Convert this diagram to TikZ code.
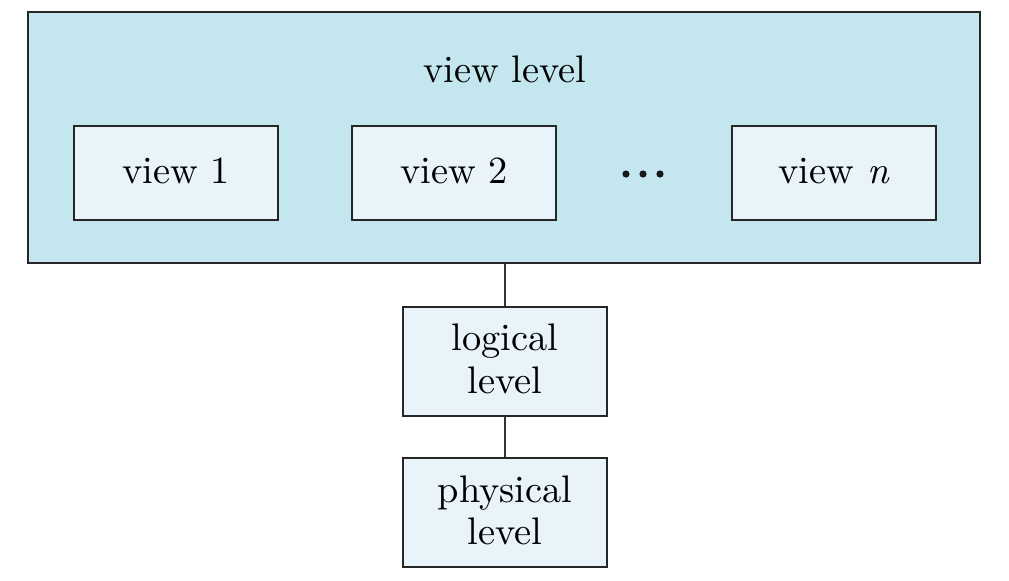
\documentclass[tikz,border=0pt]{standalone}
\begin{document}
\begin{tikzpicture}[x=0.25pt,y=-0.25pt,
  outerfill/.style={draw=black!85,line width=0.5pt,fill={rgb,255:red,196;green,230;blue,239}},
  boxa/.style={draw=black!85,line width=0.5pt,fill={rgb,255:red,232;green,244;blue,249},inner sep=0pt},
  lbl/.style={font=\fontsize{9.6}{10.6}\selectfont,align=center,inner sep=0pt},
  dotc/.style={fill=black!90,draw=none},
  conn/.style={draw=black!80,line width=0.5pt}]
\useasboundingbox (0,0) rectangle (1009,580);
\path[outerfill] (28,12) rectangle (980,263);
\coordinate (outerb) at (505,263);
\node[lbl] (vl) at (505,69) {view level};
\node[boxa,minimum width=51pt,minimum height=23.5pt] (v1) at (176,173) {};
\node[lbl] at (176,171) {view 1};
\node[boxa,minimum width=51pt,minimum height=23.5pt] (v2) at (454,173) {};
\node[lbl] at (454,171) {view 2};
\fill[dotc] (626,174) circle (0.9pt) (643,174) circle (0.9pt) (660,174) circle (0.9pt);
\node[boxa,minimum width=51pt,minimum height=23.5pt] (vn) at (834,173) {};
\node[lbl] at (834,171) {view \textit{n}};
\node[boxa,minimum width=51pt,minimum height=27.25pt] (log) at (505,361) {};
\node[lbl] at (505,359) {logical\\level};
\node[boxa,minimum width=51pt,minimum height=27.25pt] (phy) at (505,512.5) {};
\node[lbl] at (505,510.5) {physical\\level};
\draw[conn] (outerb) -- (log.north);
\draw[conn] (log.south) -- (phy.north);
\end{tikzpicture}
\end{document}
